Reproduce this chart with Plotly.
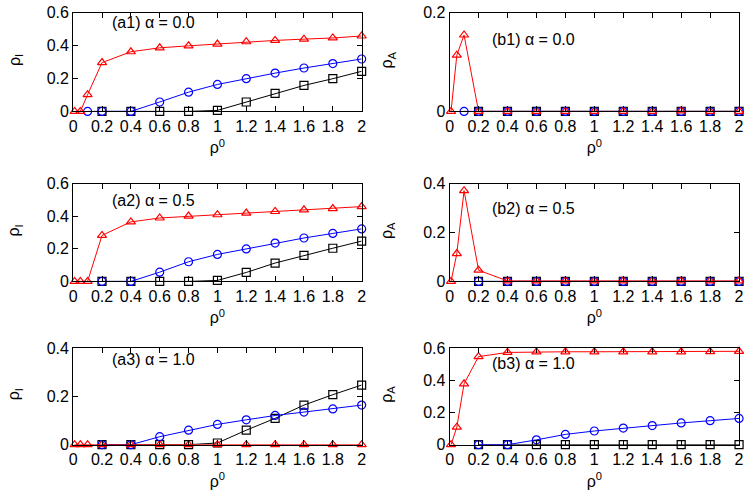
import plotly.graph_objects as go

# ---------------- data ----------------
x_red = [0.01, 0.05, 0.1, 0.2, 0.4, 0.6, 0.8, 1.0, 1.2, 1.4, 1.6, 1.8, 2.0]
x_blue_a0 = [0.1, 0.2, 0.4, 0.6, 0.8, 1.0, 1.2, 1.4, 1.6, 1.8, 2.0]
x_blue = [0.2, 0.4, 0.6, 0.8, 1.0, 1.2, 1.4, 1.6, 1.8, 2.0]
x_black = [0.2, 0.4, 0.6, 0.8, 1.0, 1.2, 1.4, 1.6, 1.8, 2.0]

# (a) rho_I
a1_red = [0, 0, 0.102, 0.297, 0.363, 0.387, 0.399, 0.41, 0.424, 0.432, 0.44, 0.447, 0.459]
a1_blue = [0, 0, 0, 0.057, 0.117, 0.164, 0.199, 0.233, 0.264, 0.291, 0.319]
a1_black = [0, 0, 0, 0, 0.006, 0.057, 0.109, 0.158, 0.199, 0.244]

a2_red = [0, 0, 0, 0.283, 0.366, 0.39, 0.402, 0.41, 0.42, 0.43, 0.44, 0.448, 0.46]
a2_blue = [0, 0, 0.057, 0.121, 0.166, 0.2, 0.236, 0.267, 0.295, 0.323]
a2_black = [0, 0, 0, 0, 0.006, 0.055, 0.113, 0.16, 0.204, 0.248]

a3_red = [0, 0, 0, 0, 0, 0, 0, 0, 0, 0, 0, 0, 0]
a3_blue = [0, 0, 0.033, 0.06, 0.084, 0.103, 0.121, 0.135, 0.148, 0.164]
a3_black = [0, 0, 0, 0, 0.007, 0.06, 0.109, 0.164, 0.207, 0.247]

# (b) rho_A
b1_red = [0, 0.114, 0.155, 0, 0, 0, 0, 0, 0, 0, 0.001, 0, 0]
b1_blue = [0, 0, 0, 0, 0, 0, 0, 0, 0, 0, 0]
b1_black = [0, 0, 0, 0, 0, 0, 0, 0, 0, 0]

b2_red = [0, 0.114, 0.372, 0.046, 0.002, 0.002, 0.002, 0.002, 0.002, 0.002, 0.002, 0.002, 0.002]
b2_blue = [0, 0, 0, 0, 0, 0, 0, 0, 0, 0]
b2_black = [0, 0, 0, 0, 0, 0, 0, 0, 0, 0]

b3_red = [0, 0.109, 0.378, 0.547, 0.573, 0.576, 0.577, 0.577, 0.577, 0.577, 0.577, 0.578, 0.58]
b3_blue = [0, 0, 0.03, 0.064, 0.085, 0.103, 0.119, 0.135, 0.149, 0.163]
b3_black = [0, 0, 0, 0, 0, 0, 0, 0, 0, 0]

x_ticks = [0, 0.2, 0.4, 0.6, 0.8, 1.0, 1.2, 1.4, 1.6, 1.8, 2.0]
x_ticklabels = ["0", "0.2", "0.4", "0.6", "0.8", "1", "1.2", "1.4", "1.6", "1.8", "2"]

panels = [
    # label, black, blue, blue_x, red, ymax, ytitle
    ("(a1) α = 0.0", a1_black, a1_blue, x_blue_a0, a1_red, 0.6, "ρ<sub>I</sub>"),
    ("(b1) α = 0.0", b1_black, b1_blue, x_blue_a0, b1_red, 0.2, "ρ<sub>A</sub>"),
    ("(a2) α = 0.5", a2_black, a2_blue, x_blue, a2_red, 0.6, "ρ<sub>I</sub>"),
    ("(b2) α = 0.5", b2_black, b2_blue, x_blue, b2_red, 0.4, "ρ<sub>A</sub>"),
    ("(a3) α = 1.0", a3_black, a3_blue, x_blue, a3_red, 0.4, "ρ<sub>I</sub>"),
    ("(b3) α = 1.0", b3_black, b3_blue, x_blue, b3_red, 0.6, "ρ<sub>A</sub>"),
]

W, H = 750, 502
col_px = [(70, 362), (451, 744)]
row_px = [(5, 107), (182, 283), (352, 452)]
label_x = [107, 492]
label_y = [[15, 33], [199, 208], [364, 368]]
ytitle_x = [11, 388]

FONT = "Liberation Sans, Arial, Helvetica, sans-serif"

fig = go.Figure()
layout = {}
annotations = []

for i, (lab, blk, blu, bx, red, ymax, ytit) in enumerate(panels):
    r, c = divmod(i, 2)
    n = i + 1
    xa = "x" if n == 1 else f"x{n}"
    ya = "y" if n == 1 else f"y{n}"
    xkey = "xaxis" if n == 1 else f"xaxis{n}"
    ykey = "yaxis" if n == 1 else f"yaxis{n}"
    x0, x1 = col_px[c]
    yt, yb = row_px[r]
    common = dict(showline=True, linecolor="black", linewidth=1, mirror="ticks",
                  ticks="inside", ticklen=5, tickcolor="black", showgrid=False,
                  zeroline=False, tickfont=dict(family=FONT, size=16, color="black"))
    layout[xkey] = dict(domain=[x0 / W, x1 / W], range=[0, 2], anchor=ya,
                        tickvals=x_ticks, ticktext=x_ticklabels,
                        title=dict(text="ρ<sup>0</sup>", font=dict(family=FONT, size=16, color="black"), standoff=8),
                        **common)
    ytv = [k * 0.2 for k in range(int(round(ymax / 0.2)) + 1)]
    layout[ykey] = dict(domain=[1 - yb / H, 1 - yt / H], range=[0, ymax], anchor=xa,
                        tickvals=ytv, ticktext=[("0" if v == 0 else f"{v:.1f}") for v in ytv],
                        **common)
    for xs, ys, col, sym in [(x_black, blk, "black", "square-open"),
                             (bx, blu, "blue", "circle-open"),
                             (x_red, red, "red", "triangle-up-open")]:
        fig.add_trace(go.Scatter(x=xs, y=ys, mode="lines+markers", xaxis=xa, yaxis=ya,
                                 line=dict(color=col, width=1),
                                 marker=dict(symbol=sym, size=8, color=col, line=dict(width=1.2, color=col)),
                                 cliponaxis=False, showlegend=False))
    annotations.append(dict(text=lab, xref="paper", yref="paper", x=label_x[c] / W, y=1 - label_y[r][c] / H,
                            xanchor="left", yanchor="middle", showarrow=False,
                            font=dict(family=FONT, size=16, color="black")))
    # y-axis title (rotated)
    annotations.append(dict(text=ytit, xref="paper", yref="paper", x=ytitle_x[c] / W,
                            y=1 - ((yt + yb) / 2 - 2) / H, textangle=-90,
                            xanchor="center", yanchor="middle", showarrow=False,
                            font=dict(family=FONT, size=16, color="black")))

fig.update_layout(width=W, height=H, margin=dict(l=0, r=0, t=0, b=0),
                  paper_bgcolor="white", plot_bgcolor="white",
                  annotations=annotations, **layout)

fig.write_html("out.html", config={"displayModeBar": False},
               post_script="document.body.style.margin='0';document.body.style.padding='0';")
